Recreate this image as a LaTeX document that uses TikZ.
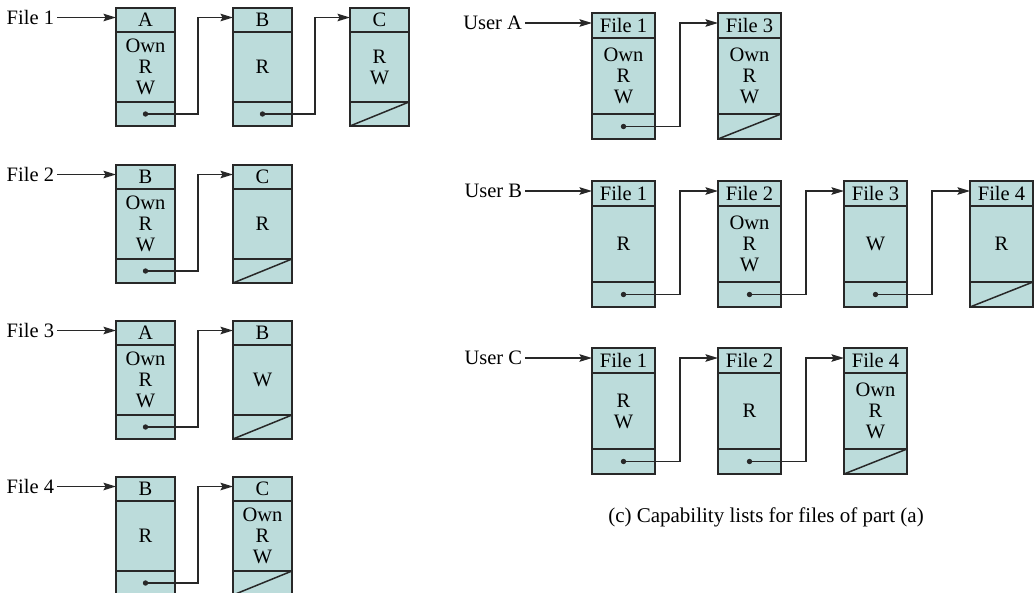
\documentclass[tikz,border=0pt]{standalone}
\usepackage{fontspec}
\setmainfont{Liberation Serif}
\usetikzlibrary{arrows.meta}
\definecolor{boxfill}{RGB}{188,220,219}
\definecolor{edge}{RGB}{40,40,40}
\newcommand\cw{59}
\newcommand\hh{24}
\newcommand\bh{70}
\newcommand\fh{24}
% #1 name, #2 top-left, #3 header text, #4 body text
\newcommand\mkcell[4]{%
  \node[cell, minimum width=\cw pt, minimum height=\hh pt, anchor=north west] (#1h) at #2 {#3};
  \node[cell, minimum width=\cw pt, minimum height=\bh pt, anchor=north] (#1b) at (#1h.south) {#4};
  \node[cell, minimum width=\cw pt, minimum height=\fh pt, anchor=north] (#1f) at (#1b.south) {};
}
\newcommand\mklink[3]{% from cell #1 to cell #2, vertical offset #3
  \fill[edge] (#1f.center) circle (2.7pt);
  \draw[conn] (#1f.center) -| ([xshift=#3pt]#1f.east) |- ([yshift=2.5pt]#2h.west);
}
\newcommand\mkend[1]{\draw[thinline] (#1f.south west) -- (#1f.north east);}
\begin{document}
\begin{tikzpicture}[x=1pt,y=-1pt,
  every node/.style={font=\fontsize{20.5}{21}\selectfont, inner sep=0pt, outer sep=0pt},
  cell/.style={draw=edge, fill=boxfill, line width=1.7pt, align=center},
  conn/.style={draw=edge, line width=1.5pt, -{Stealth[length=12.5pt,width=7.5pt,inset=2pt]}},
  thinline/.style={draw=edge, line width=1.5pt},
  lab/.style={anchor=east, inner xsep=3pt}]
\useasboundingbox (0,0) rectangle (1036,592);
\clip (0,0) rectangle (1036,592);

% ---------- left column: access lists ----------
\mkcell{l1a}{(116,8)}{A}{Own\\R\\W}
\mkcell{l1b}{(233,8)}{B}{R}
\mkcell{l1c}{(350,8)}{C}{R\\W}
\mklink{l1a}{l1b}{23}
\mklink{l1b}{l1c}{23}
\mkend{l1c}
\node[lab] (f1) at (57,17.5) {File 1};
\draw[conn] (f1.east) -- (f1.east -| l1ah.west);

\mkcell{l2a}{(116,165)}{B}{Own\\R\\W}
\mkcell{l2b}{(233,165)}{C}{R}
\mklink{l2a}{l2b}{23}
\mkend{l2b}
\node[lab] (f2) at (57,174.5) {File 2};
\draw[conn] (f2.east) -- (f2.east -| l2ah.west);

\mkcell{l3a}{(116,321)}{A}{Own\\R\\W}
\mkcell{l3b}{(233,321)}{B}{W}
\mklink{l3a}{l3b}{23}
\mkend{l3b}
\node[lab] (f3) at (57,330.5) {File 3};
\draw[conn] (f3.east) -- (f3.east -| l3ah.west);

\mkcell{l4a}{(116,477)}{B}{R}
\mkcell{l4b}{(233,477)}{C}{Own\\R\\W}
\mklink{l4a}{l4b}{23}
\mkend{l4b}
\node[lab] (f4) at (57,486.5) {File 4};
\draw[conn] (f4.east) -- (f4.east -| l4ah.west);

% ---------- right part: capability lists ----------
\renewcommand\cw{63}
\renewcommand\hh{25}
\renewcommand\bh{76}
\renewcommand\fh{25}

\mkcell{ua1}{(592,13)}{File 1}{Own\\R\\W}
\mkcell{ua2}{(718,13)}{File 3}{Own\\R\\W}
\mklink{ua1}{ua2}{25}
\mkend{ua2}
\node[lab] (usa) at (525,23) {User A};
\draw[conn] (usa.east) -- (usa.east -| ua1h.west);

\mkcell{ub1}{(592,181)}{File 1}{R}
\mkcell{ub2}{(718,181)}{File 2}{Own\\R\\W}
\mkcell{ub3}{(844,181)}{File 3}{W}
\mkcell{ub4}{(970,181)}{File 4}{R}
\mklink{ub1}{ub2}{25}
\mklink{ub2}{ub3}{25}
\mklink{ub3}{ub4}{25}
\mkend{ub4}
\node[lab] (usb) at (525,191) {User B};
\draw[conn] (usb.east) -- (usb.east -| ub1h.west);

\mkcell{uc1}{(592,348)}{File 1}{R\\W}
\mkcell{uc2}{(718,348)}{File 2}{R}
\mkcell{uc3}{(844,348)}{File 4}{Own\\R\\W}
\mklink{uc1}{uc2}{25}
\mklink{uc2}{uc3}{25}
\mkend{uc3}
\node[lab] (usc) at (525,358) {User C};
\draw[conn] (usc.east) -- (usc.east -| uc1h.west);

\node[font=\fontsize{21}{24}\selectfont, anchor=base] (cap) at (766,522) {(c) Capability lists for files of part (a)};
\end{tikzpicture}
\end{document}
